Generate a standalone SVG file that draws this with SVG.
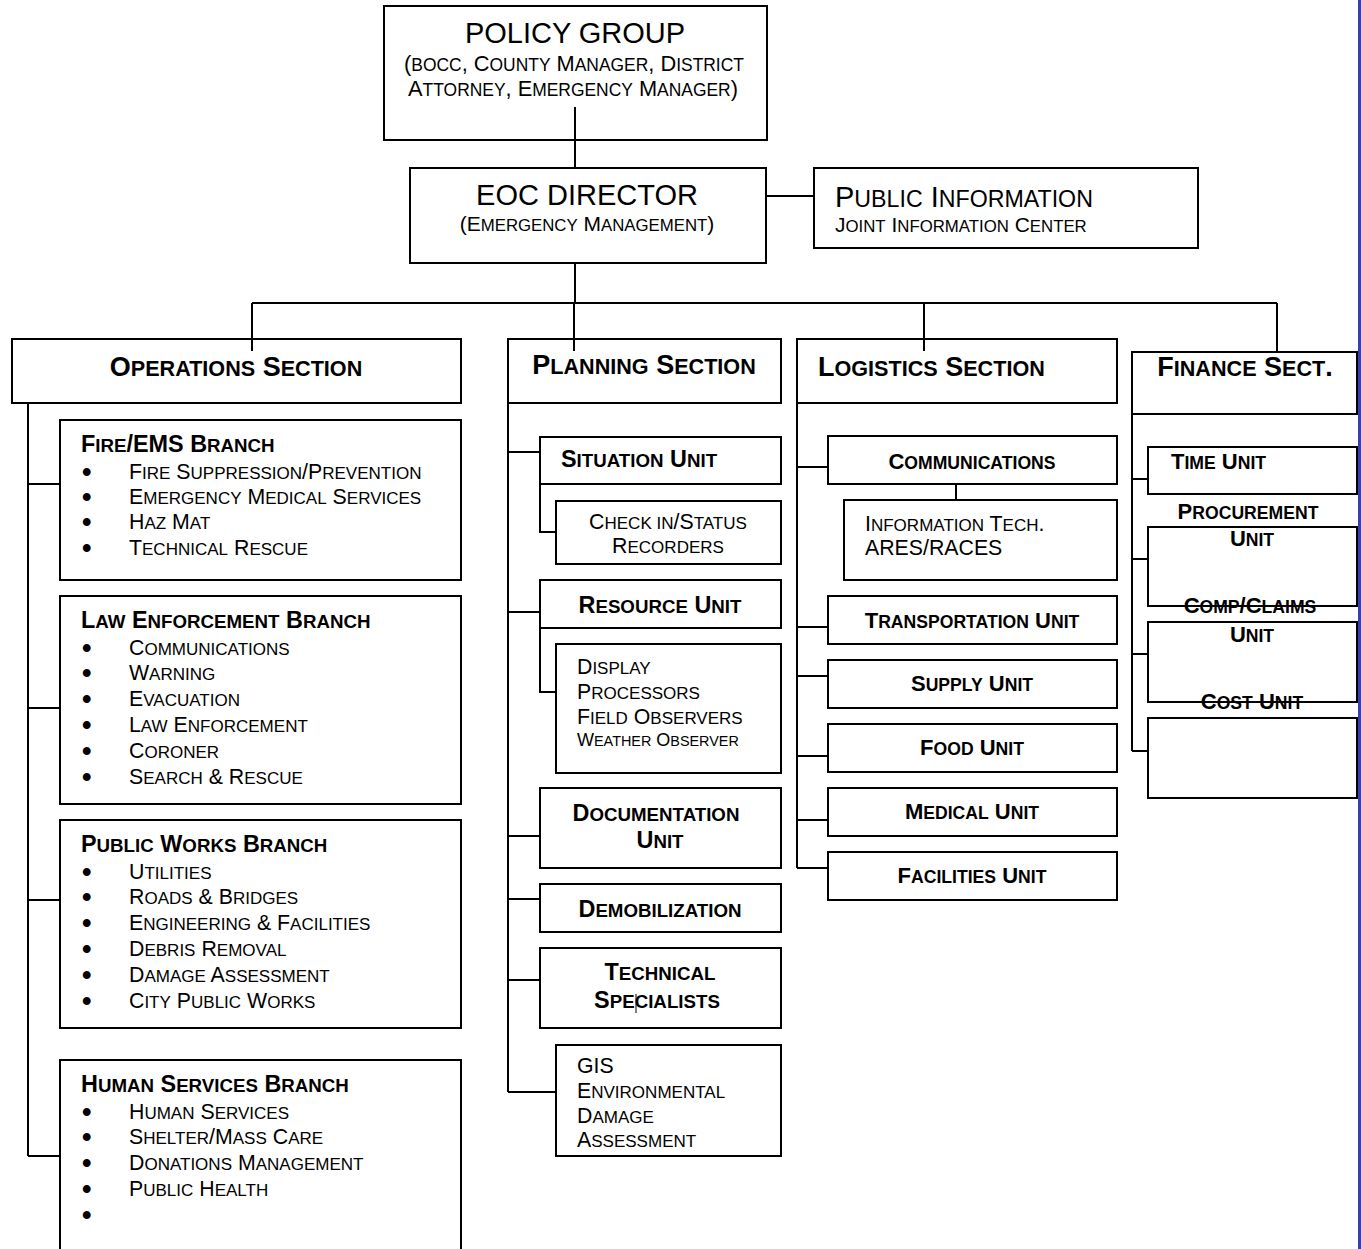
<svg xmlns="http://www.w3.org/2000/svg" width="1361" height="1249" viewBox="0 0 1361 1249">
  <style>
    text { font-family: "Liberation Sans", Arial, sans-serif; fill: #000; }
    .s { font-size: 0.8em; }
    .box { fill: #fff; stroke: #000; stroke-width: 2; }
    .ln { fill: none; stroke: #000; stroke-width: 2; }
    .title { font-size: 29px; }
    .sub { font-size: 21px; }
    .sub2 { font-size: 21.8px; }
    .sec { font-size: 27px; font-weight: bold; }
    .unit { font-size: 23.4px; font-weight: bold; }
    .lunit { font-size: 22px; font-weight: bold; }
    .body { font-size: 21.3px; }
    .small { font-size: 18px; }
    .mid { text-anchor: middle; }
    .bul { font-size: 21.3px; stroke: #000; stroke-width: 2; }
  </style>

  <rect x="0" y="0" width="1361" height="1249" fill="#fff"/>
  <!-- page margin rule -->
  <rect x="1358" y="0" width="3" height="1249" fill="#3c3caa"/>

  <!-- command -->
  <g id="policy-group">
    <rect class="box" x="384" y="6" width="383" height="134"/>
    <text class="title mid" x="575" y="43">POLICY GROUP</text>
    <text class="sub2 mid" x="574" y="71">(<tspan class="s">BOCC</tspan>, C<tspan class="s">OUNTY</tspan> M<tspan class="s">ANAGER</tspan>, D<tspan class="s">ISTRICT</tspan></text>
    <text class="sub2 mid" x="573" y="96">A<tspan class="s">TTORNEY</tspan>, E<tspan class="s">MERGENCY</tspan> M<tspan class="s">ANAGER</tspan>)</text>
  </g>
  <g id="eoc-director">
    <rect class="box" x="410" y="168" width="356" height="95"/>
    <text class="title mid" x="587" y="205">EOC DIRECTOR</text>
    <text class="sub mid" x="587" y="231">(E<tspan class="s">MERGENCY</tspan> M<tspan class="s">ANAGEMENT</tspan>)</text>
  </g>
  <g id="public-information">
    <rect class="box" x="814" y="168" width="384" height="80"/>
    <text class="title" x="835" y="207" font-size="29.6">P<tspan class="s">UBLIC</tspan> I<tspan class="s">NFORMATION</tspan></text>
    <text class="sub" x="835" y="232">J<tspan class="s">OINT</tspan> I<tspan class="s">NFORMATION</tspan> C<tspan class="s">ENTER</tspan></text>
  </g>

  <!-- operations -->
  <g id="operations-section">
    <rect class="box" x="12" y="339" width="449" height="64"/>
    <text class="sec mid" x="236" y="376">O<tspan class="s">PERATIONS</tspan> S<tspan class="s">ECTION</tspan></text>
  </g>
  <g id="fire-ems-branch">
    <rect class="box" x="60" y="420" width="401" height="160"/>
    <text class="unit" x="81" y="452">F<tspan class="s">IRE</tspan>/EMS B<tspan class="s">RANCH</tspan></text>
    <g class="bul">
      <text x="83" y="479">•</text><text x="83" y="504">•</text><text x="83" y="529">•</text><text x="83" y="555">•</text>
    </g>
    <g class="body">
      <text x="129" y="479">F<tspan class="s">IRE</tspan> S<tspan class="s">UPPRESSION</tspan>/P<tspan class="s">REVENTION</tspan></text>
      <text x="129" y="504">E<tspan class="s">MERGENCY</tspan> M<tspan class="s">EDICAL</tspan> S<tspan class="s">ERVICES</tspan></text>
      <text x="129" y="529">H<tspan class="s">AZ</tspan> M<tspan class="s">AT</tspan></text>
      <text x="129" y="555">T<tspan class="s">ECHNICAL</tspan> R<tspan class="s">ESCUE</tspan></text>
    </g>
  </g>
  <g id="law-enforcement-branch">
    <rect class="box" x="60" y="596" width="401" height="208"/>
    <text class="unit" x="81" y="628">L<tspan class="s">AW</tspan> E<tspan class="s">NFORCEMENT</tspan> B<tspan class="s">RANCH</tspan></text>
    <g class="bul">
      <text x="83" y="655">•</text><text x="83" y="680">•</text><text x="83" y="706">•</text><text x="83" y="732">•</text><text x="83" y="758">•</text><text x="83" y="784">•</text>
    </g>
    <g class="body">
      <text x="129" y="655">C<tspan class="s">OMMUNICATIONS</tspan></text>
      <text x="129" y="680">W<tspan class="s">ARNING</tspan></text>
      <text x="129" y="706">E<tspan class="s">VACUATION</tspan></text>
      <text x="129" y="732">L<tspan class="s">AW</tspan> E<tspan class="s">NFORCEMENT</tspan></text>
      <text x="129" y="758">C<tspan class="s">ORONER</tspan></text>
      <text x="129" y="784">S<tspan class="s">EARCH</tspan> &amp; R<tspan class="s">ESCUE</tspan></text>
    </g>
  </g>
  <g id="public-works-branch">
    <rect class="box" x="60" y="820" width="401" height="208"/>
    <text class="unit" x="81" y="852">P<tspan class="s">UBLIC</tspan> W<tspan class="s">ORKS</tspan> B<tspan class="s">RANCH</tspan></text>
    <g class="bul">
      <text x="83" y="879">•</text><text x="83" y="904">•</text><text x="83" y="930">•</text><text x="83" y="956">•</text><text x="83" y="982">•</text><text x="83" y="1008">•</text>
    </g>
    <g class="body">
      <text x="129" y="879">U<tspan class="s">TILITIES</tspan></text>
      <text x="129" y="904">R<tspan class="s">OADS</tspan> &amp; B<tspan class="s">RIDGES</tspan></text>
      <text x="129" y="930">E<tspan class="s">NGINEERING</tspan> &amp; F<tspan class="s">ACILITIES</tspan></text>
      <text x="129" y="956">D<tspan class="s">EBRIS</tspan> R<tspan class="s">EMOVAL</tspan></text>
      <text x="129" y="982">D<tspan class="s">AMAGE</tspan> A<tspan class="s">SSESSMENT</tspan></text>
      <text x="129" y="1008">C<tspan class="s">ITY</tspan> P<tspan class="s">UBLIC</tspan> W<tspan class="s">ORKS</tspan></text>
    </g>
  </g>
  <g id="human-services-branch">
    <rect class="box" x="60" y="1060" width="401" height="200"/>
    <text class="unit" x="81" y="1092">H<tspan class="s">UMAN</tspan> S<tspan class="s">ERVICES</tspan> B<tspan class="s">RANCH</tspan></text>
    <g class="bul">
      <text x="83" y="1119">•</text><text x="83" y="1144">•</text><text x="83" y="1170">•</text><text x="83" y="1196">•</text><text x="83" y="1222">•</text>
    </g>
    <g class="body">
      <text x="129" y="1119">H<tspan class="s">UMAN</tspan> S<tspan class="s">ERVICES</tspan></text>
      <text x="129" y="1144">S<tspan class="s">HELTER</tspan>/M<tspan class="s">ASS</tspan> C<tspan class="s">ARE</tspan></text>
      <text x="129" y="1170">D<tspan class="s">ONATIONS</tspan> M<tspan class="s">ANAGEMENT</tspan></text>
      <text x="129" y="1196">P<tspan class="s">UBLIC</tspan> H<tspan class="s">EALTH</tspan></text>
    </g>
  </g>

  <!-- planning -->
  <g id="planning-section">
    <rect class="box" x="508" y="339" width="273" height="64"/>
    <text class="sec mid" x="644" y="374">P<tspan class="s">LANNING</tspan> S<tspan class="s">ECTION</tspan></text>
  </g>
  <g id="situation-unit">
    <rect class="box" x="540" y="437" width="241" height="47"/>
    <text class="unit" x="561" y="467">S<tspan class="s">ITUATION</tspan> U<tspan class="s">NIT</tspan></text>
  </g>
  <g id="check-in-status">
    <rect class="box" x="556" y="501" width="225" height="63"/>
    <text class="body mid" x="668" y="529">C<tspan class="s">HECK IN</tspan>/S<tspan class="s">TATUS</tspan></text>
    <text class="body mid" x="668" y="553">R<tspan class="s">ECORDERS</tspan></text>
  </g>
  <g id="resource-unit">
    <rect class="box" x="540" y="580" width="241" height="48"/>
    <text class="unit mid" x="660" y="613">R<tspan class="s">ESOURCE</tspan> U<tspan class="s">NIT</tspan></text>
  </g>
  <g id="resource-staff">
    <rect class="box" x="556" y="644" width="225" height="129"/>
    <text class="body" x="577" y="674">D<tspan class="s">ISPLAY</tspan></text>
    <text class="body" x="577" y="699">P<tspan class="s">ROCESSORS</tspan></text>
    <text class="body" x="577" y="724">F<tspan class="s">IELD</tspan> O<tspan class="s">BSERVERS</tspan></text>
    <text class="small" x="577" y="746">W<tspan class="s">EATHER</tspan> O<tspan class="s">BSERVER</tspan></text>
  </g>
  <g id="documentation-unit">
    <rect class="box" x="540" y="788" width="241" height="80"/>
    <text class="unit mid" x="656" y="821">D<tspan class="s">OCUMENTATION</tspan></text>
    <text class="unit mid" x="660" y="848">U<tspan class="s">NIT</tspan></text>
  </g>
  <g id="demobilization">
    <rect class="box" x="540" y="884" width="241" height="48"/>
    <text class="unit mid" x="660" y="917">D<tspan class="s">EMOBILIZATION</tspan></text>
  </g>
  <g id="technical-specialists">
    <rect class="box" x="540" y="948" width="241" height="80"/>
    <text class="unit mid" x="660" y="980">T<tspan class="s">ECHNICAL</tspan></text>
    <text class="unit mid" x="657" y="1008">S<tspan class="s">PECIALISTS</tspan></text>
    <line x1="636" y1="994" x2="636" y2="1013" stroke="#000" stroke-width="1"/>
  </g>
  <g id="gis-environmental">
    <rect class="box" x="556" y="1045" width="225" height="111"/>
    <text class="body" x="577" y="1073">GIS</text>
    <text class="body" x="577" y="1098">E<tspan class="s">NVIRONMENTAL</tspan></text>
    <text class="body" x="577" y="1123">D<tspan class="s">AMAGE</tspan></text>
    <text class="body" x="577" y="1147">A<tspan class="s">SSESSMENT</tspan></text>
  </g>

  <!-- logistics -->
  <g id="logistics-section">
    <rect class="box" x="797" y="339" width="320" height="64"/>
    <text class="sec" x="818" y="376">L<tspan class="s">OGISTICS</tspan> S<tspan class="s">ECTION</tspan></text>
  </g>
  <g id="communications">
    <rect class="box" x="828" y="436" width="289" height="48"/>
    <text class="lunit mid" x="972" y="469">C<tspan class="s">OMMUNICATIONS</tspan></text>
  </g>
  <g id="information-tech">
    <rect class="box" x="844" y="500" width="273" height="80"/>
    <text class="body" x="865" y="531">I<tspan class="s">NFORMATION</tspan> T<tspan class="s">ECH</tspan>.</text>
    <text class="body" x="865" y="555">ARES/RACES</text>
  </g>
  <g id="transportation-unit">
    <rect class="box" x="828" y="596" width="289" height="48"/>
    <text class="lunit mid" x="972" y="628">T<tspan class="s">RANSPORTATION</tspan> U<tspan class="s">NIT</tspan></text>
  </g>
  <g id="supply-unit">
    <rect class="box" x="828" y="660" width="289" height="48"/>
    <text class="lunit mid" x="972" y="691">S<tspan class="s">UPPLY</tspan> U<tspan class="s">NIT</tspan></text>
  </g>
  <g id="food-unit">
    <rect class="box" x="828" y="724" width="289" height="48"/>
    <text class="lunit mid" x="972" y="755">F<tspan class="s">OOD</tspan> U<tspan class="s">NIT</tspan></text>
  </g>
  <g id="medical-unit">
    <rect class="box" x="828" y="788" width="289" height="48"/>
    <text class="lunit mid" x="972" y="819">M<tspan class="s">EDICAL</tspan> U<tspan class="s">NIT</tspan></text>
  </g>
  <g id="facilities-unit">
    <rect class="box" x="828" y="852" width="289" height="48"/>
    <text class="lunit mid" x="972" y="883">F<tspan class="s">ACILITIES</tspan> U<tspan class="s">NIT</tspan></text>
  </g>

  <!-- finance -->
  <g id="finance-section">
    <rect class="box" x="1132" y="352" width="225" height="62"/>
    <text class="sec mid" x="1245" y="376">F<tspan class="s">INANCE</tspan> S<tspan class="s">ECT</tspan>.</text>
  </g>
  <g id="time-unit">
    <rect class="box" x="1148" y="447" width="209" height="47"/>
    <text class="lunit" x="1171" y="469">T<tspan class="s">IME</tspan> U<tspan class="s">NIT</tspan></text>
  </g>
  <g id="procurement-unit">
    <rect class="box" x="1148" y="527" width="209" height="79"/>
    <text class="lunit mid" x="1248" y="519">P<tspan class="s">ROCUREMENT</tspan></text>
    <text class="lunit mid" x="1252" y="546">U<tspan class="s">NIT</tspan></text>
  </g>
  <g id="comp-claims-unit">
    <rect class="box" x="1148" y="622" width="209" height="80"/>
    <text class="lunit mid" x="1250" y="613">C<tspan class="s">OMP</tspan>/C<tspan class="s">LAIMS</tspan></text>
    <text class="lunit mid" x="1252" y="642">U<tspan class="s">NIT</tspan></text>
  </g>
  <g id="cost-unit">
    <rect class="box" x="1148" y="718" width="209" height="80"/>
    <text class="lunit mid" x="1252" y="709">C<tspan class="s">OST</tspan> U<tspan class="s">NIT</tspan></text>
  </g>

  <!-- reporting lines -->
  <g id="connectors" class="ln">
    <path d="M575 107V168M766 196H814M575 263V303"/>
    <path d="M252 303H1277M252 303V351M574 303V351M924 303V351M1277 303V352"/>
    <path d="M28 403V1156M28 484H60M28 708H60M28 900H60M28 1156H60"/>
    <path d="M508 403V1092M508 452H540M508 612H540M508 836H540M508 899H540M508 980H540M508 1092H556"/>
    <path d="M540 484V532H556M540 628V692H556"/>
    <path d="M797 403V868M797 467H828M797 627H828M797 676H828M797 756H828M797 820H828M797 868H828"/>
    <path d="M956 484V500"/>
    <path d="M1132 414V751M1132 479H1148M1132 559H1148M1132 654H1148M1132 751H1148"/>
  </g>
</svg>
